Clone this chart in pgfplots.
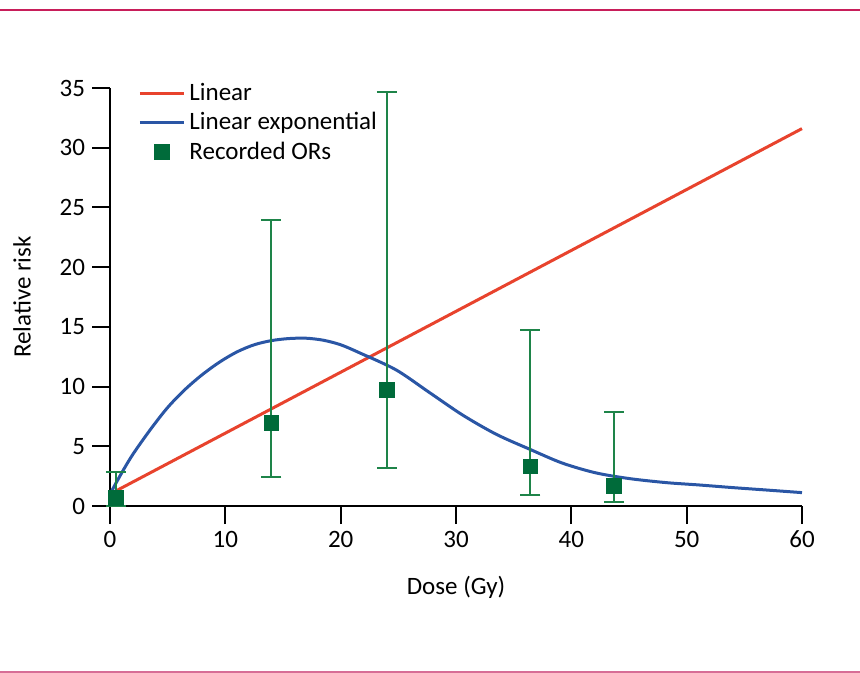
\documentclass[border=0pt]{standalone}
\usepackage{fontspec}
\setmainfont{Carlito}
\usepackage{pgfplots}
\pgfplotsset{compat=1.18}
\definecolor{lred}{RGB}{232,67,45}
\definecolor{lblue}{RGB}{42,86,165}
\definecolor{lgreen}{RGB}{0,107,58}
\definecolor{lgreenbar}{RGB}{30,132,73}
\definecolor{pinktop}{RGB}{200,30,90}
\definecolor{pinkbot}{RGB}{215,110,150}
\pgfplotsset{
  linelegend/.style={legend image code/.code={\draw[##1] (0pt,0pt) -- (22pt,0pt);}},
  marklegend/.style={legend image code/.code={\draw[mark repeat=2,mark phase=2,##1] plot coordinates {(0pt,0pt) (11pt,0pt) (22pt,0pt)};}},
}
\pgfplotstableread{
x y ep em
0.5 0.67 2.18 0.67
14.0 6.95 17.0 4.5
24.0 9.72 24.95 6.57
36.45 3.3 11.44 2.38
43.7 1.7 6.2 1.34
}\ordata
\begin{document}
\begin{tikzpicture}[x=1pt,y=1pt]
\path[use as bounding box] (0,0) rectangle (430,-336.5);
\draw[pinktop, line width=1.2pt] (0,-5) -- (430,-5);
\draw[pinkbot, line width=1pt] (0,-336) -- (430,-336);
\begin{axis}[
  at={(55pt,-253pt)}, anchor=south west,
  scale only axis, width=346pt, height=209pt,
  xmin=0, xmax=60, ymin=0, ymax=35,
  axis lines*=left,
  axis line style={line width=1pt, black},
  xtick={0,10,...,60}, ytick={0,5,...,35},
  tick align=outside,
  major tick length=9pt,
  every tick/.style={black, line width=1pt},
  font=\fontsize{12.5pt}{15pt}\selectfont,
  /pgf/number format/assume math mode=true,
  xlabel={Dose (Gy)}, ylabel={Relative risk},
  xlabel style={at={(axis description cs:0.5,-0.1938)}, anchor=center},
  ylabel style={at={(axis description cs:-0.1272,0.5)}, anchor=center},
  clip=false,
  legend style={at={(axis description cs:0.0405,1.022)}, anchor=north west, draw=none, fill=none, row sep=0.5pt, inner sep=0pt, nodes={inner sep=2pt}},
  legend cell align=left,
  linelegend,
]
\addplot[lred, line width=1.5pt] coordinates {(0,1.0) (60,31.6)};
\addlegendentry{Linear}
\addplot[lblue, line width=1.5pt, smooth] coordinates {
(0,1.0) (1,2.75) (2,4.35) (3.5,6.4) (5,8.25) (6.5,9.75) (8,11.0) (9.5,12.05)
(11,12.9) (12.5,13.5) (14,13.85) (15.5,14.02) (17,14.05) (18.5,13.88) (20,13.5)
(21.7,12.8) (24.8,11.4) (27.7,9.5) (30.6,7.6) (33.5,6.0) (36.4,4.75) (39.2,3.6)
(42.1,2.78) (45.0,2.3) (48.2,1.96) (51.1,1.76) (54.0,1.54) (56.9,1.34) (60,1.12)};
\addlegendentry{Linear exponential}
\addplot[only marks, mark=square*, mark size=3.6pt, color=lgreen,
  mark options={fill=lgreen, draw=lgreen},
  marklegend,
  error bars/.cd, y dir=both, y explicit,
  error bar style={lgreenbar, line width=1pt},
  error mark options={rotate=90, mark size=5pt, lgreenbar, line width=1pt}]
  table[x=x, y=y, y error plus=ep, y error minus=em] {\ordata};
\addlegendentry{Recorded ORs}
\end{axis}
\end{tikzpicture}
\end{document}
